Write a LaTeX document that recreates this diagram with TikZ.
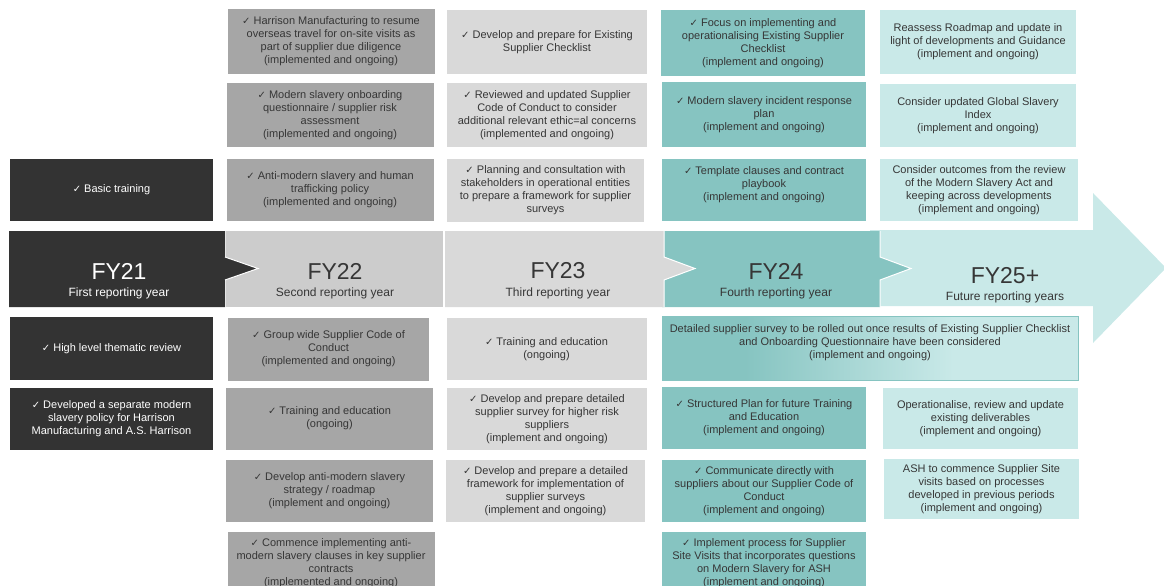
\documentclass[tikz,border=0pt]{standalone}
\usepackage{fontspec}
\setmainfont{Liberation Sans}
\newfontfamily\symfont{DejaVu Sans}
\usetikzlibrary{positioning}

\definecolor{fyone}{HTML}{333333}
\definecolor{fytwo}{HTML}{A6A6A6}
\definecolor{fytwoband}{HTML}{CCCCCC}
\definecolor{fythree}{HTML}{D9D9D9}
\definecolor{fyfour}{HTML}{86C4C1}
\definecolor{fyfive}{HTML}{C9E9E8}
\definecolor{boxtext}{HTML}{363636}

\pgfdeclarehorizontalshading{survey}{100bp}{color(0bp)=(fyfour); color(35bp)=(fyfour); color(60bp)=(fyfive); color(100bp)=(fyfive)}

\newcommand{\chk}{{\symfont\fontsize{10}{10}\selectfont ✓}\ }

\begin{document}
\begin{tikzpicture}[x=1pt,y=-1pt,
  box/.style={rectangle,inner sep=0pt,align=center,text=boxtext,
    font=\fontsize{11}{13}\selectfont},
  fy21 box/.style={box,fill=fyone,text=white,minimum width=203pt},
  fy22 box/.style={box,fill=fytwo,minimum width=207pt},
  fy23 box/.style={box,fill=fythree,minimum width=200pt},
  fy24 box/.style={box,fill=fyfour,minimum width=204pt},
  fy25 box/.style={box,fill=fyfive,minimum width=196pt},
  year/.style={inner sep=0pt,text=boxtext,font=\fontsize{23}{23}\selectfont},
  sub/.style={inner sep=0pt,text=boxtext,font=\fontsize{12}{12}\selectfont},
  notch/.style={white,line width=1pt}]

  \clip (0,0) rectangle (1164,586);

  % timeline band
  \fill[fyfive] (870,230) -- (1093,230) -- (1093,193) -- (1166,268)
    -- (1093,343) -- (1093,306) -- (870,306) -- cycle;
  \fill[fyfour] (662,231) -- (880,231) -- (880,257) -- (911,268.5)
    -- (880,280) -- (880,307) -- (662,307) -- cycle;
  \draw[notch] (880,231) -- (880,257) -- (911,268.5) -- (880,280) -- (880,307);
  \fill[fythree] (445,231) -- (664,231) -- (664,257) -- (695,268.5)
    -- (664,280) -- (664,307) -- (445,307) -- cycle;
  \draw[notch] (664,231) -- (664,257) -- (695,268.5) -- (664,280) -- (664,307);
  \fill[fytwoband] (226,231) rectangle (443,307);
  \fill[fyone] (9,231) -- (225,231) -- (225,257) -- (258,268.5)
    -- (225,280) -- (225,307) -- (9,307) -- cycle;
  \draw[notch] (225,257) -- (258,268.5) -- (225,280);

  \node[year,text=white] (fy21) at (119,271) {FY21};
  \node[sub,text=white] (fy21s) at (119,293) {First reporting year};
  \node[year] (fy22) at (335,271) {FY22};
  \node[sub] (fy22s) at (335,293) {Second reporting year};
  \node[year] (fy23) at (558,271) {FY23};
  \node[sub] (fy23s) at (558,293) {Third reporting year};
  \node[year] (fy24) at (776,271) {FY24};
  \node[sub] (fy24s) at (776,293) {Fourth reporting year};
  \node[year] (fy25) at (1005,276) {FY25+};
  \node[sub] (fy25s) at (1005,297) {Future reporting years};

  % FY21
  \node[fy21 box,minimum height=62pt] (b1) at (111.5,190) {\chk Basic training};
  \node[fy21 box,minimum height=63pt] (b2) at (111.5,348.5) {\chk High level thematic review};
  \node[fy21 box,minimum height=62pt] (b3) at (111.5,419) {\chk Developed a separate modern\\slavery policy for Harrison\\Manufacturing and A.S. Harrison};

  % FY22
  \node[fy22 box,minimum height=65pt] (c1) at (331,41.5) {\chk Harrison Manufacturing to resume\\overseas travel for on-site visits as\\part of supplier due diligence\\(implemented and ongoing)};
  \node[fy22 box,minimum height=64pt] (c2) at (330,115) {\chk Modern slavery onboarding\\questionnaire / supplier risk\\assessment\\(implemented and ongoing)};
  \node[fy22 box,minimum height=62pt] (c3) at (330,190) {\chk Anti-modern slavery and human\\trafficking policy\\(implemented and ongoing)};
  \node[fy22 box,minimum height=63pt,minimum width=201pt] (c4) at (328.5,349) {\chk Group wide Supplier Code of\\Conduct\\(implemented and ongoing)};
  \node[fy22 box,minimum height=62pt] (c5) at (329.5,418.5) {\chk Training and education\\(ongoing)};
  \node[fy22 box,minimum height=62pt] (c6) at (329.5,491) {\chk Develop anti-modern slavery\\strategy / roadmap\\(implement and ongoing)};
  \node[fy22 box,minimum height=63pt] (c7) at (331,563.5) {\chk Commence implementing anti-\\modern slavery clauses in key supplier\\contracts\\(implemented and ongoing)};

  % FY23
  \node[fy23 box,minimum height=64pt] (d1) at (547,42) {\chk Develop and prepare for Existing\\Supplier Checklist};
  \node[fy23 box,minimum height=64pt] (d2) at (547,115) {\chk Reviewed and updated Supplier\\Code of Conduct to consider\\additional relevant ethic=al concerns\\(implemented and ongoing)};
  \node[fy23 box,minimum height=63pt,minimum width=197pt] (d3) at (545.5,190.5) {\chk Planning and consultation with\\stakeholders in operational entities\\to prepare a framework for supplier\\surveys};
  \node[fy23 box,minimum height=62pt] (d4) at (546.5,349) {\chk Training and education\\(ongoing)};
  \node[fy23 box,minimum height=62pt] (d5) at (547,419) {\chk Develop and prepare detailed\\supplier survey for higher risk\\suppliers\\(implement and ongoing)};
  \node[fy23 box,minimum height=62pt,minimum width=199pt] (d6) at (545.5,491) {\chk Develop and prepare a detailed\\framework for implementation of\\supplier surveys\\(implement and ongoing)};

  % FY24
  \node[fy24 box,minimum height=66pt] (e1) at (763,43) {\chk Focus on implementing and\\operationalising Existing Supplier\\Checklist\\(implement and ongoing)};
  \node[fy24 box,minimum height=65pt] (e2) at (764,114.5) {\chk Modern slavery incident response\\plan\\(implement and ongoing)};
  \node[fy24 box,minimum height=62pt] (e3) at (764,190) {\chk Template clauses and contract\\playbook\\(implement and ongoing)\\ \mbox{}};
  \node[box,shading=survey,draw=fyfour,line width=0.8pt,minimum width=416pt,minimum height=64pt] (e4) at (870,348) {Detailed supplier survey to be rolled out once results of Existing Supplier Checklist\\and Onboarding Questionnaire have been considered\\(implement and ongoing)\\ \mbox{}};
  \node[fy24 box,minimum height=62pt] (e5) at (764,418) {\chk Structured Plan for future Training\\and Education\\(implement and ongoing)};
  \node[fy24 box,minimum height=62pt] (e6) at (764,491) {\chk Communicate directly with\\suppliers about our Supplier Code of\\Conduct\\(implement and ongoing)};
  \node[fy24 box,minimum height=62pt] (e7) at (764,563) {\chk Implement process for Supplier\\Site Visits that incorporates questions\\on Modern Slavery for ASH\\(implement and ongoing)};

  % FY25+
  \node[fy25 box,minimum height=64pt] (f1) at (978,42) {Reassess Roadmap and update in\\light of developments and Guidance\\(implement and ongoing)};
  \node[fy25 box,minimum height=63pt] (f2) at (978,115.5) {Consider updated Global Slavery\\Index\\(implement and ongoing)};
  \node[fy25 box,minimum height=62pt,minimum width=198pt] (f3) at (979,190) {Consider outcomes from the review\\of the Modern Slavery Act and\\keeping across developments\\(implement and ongoing)};
  \node[fy25 box,minimum height=61pt,minimum width=195pt] (f4) at (980.5,418.5) {Operationalise, review and update\\existing deliverables\\(implement and ongoing)};
  \node[fy25 box,minimum height=60pt,minimum width=195pt] (f5) at (981.5,489) {ASH to commence Supplier Site\\visits based on processes\\developed in previous periods\\(implement and ongoing)};

\end{tikzpicture}
\end{document}
